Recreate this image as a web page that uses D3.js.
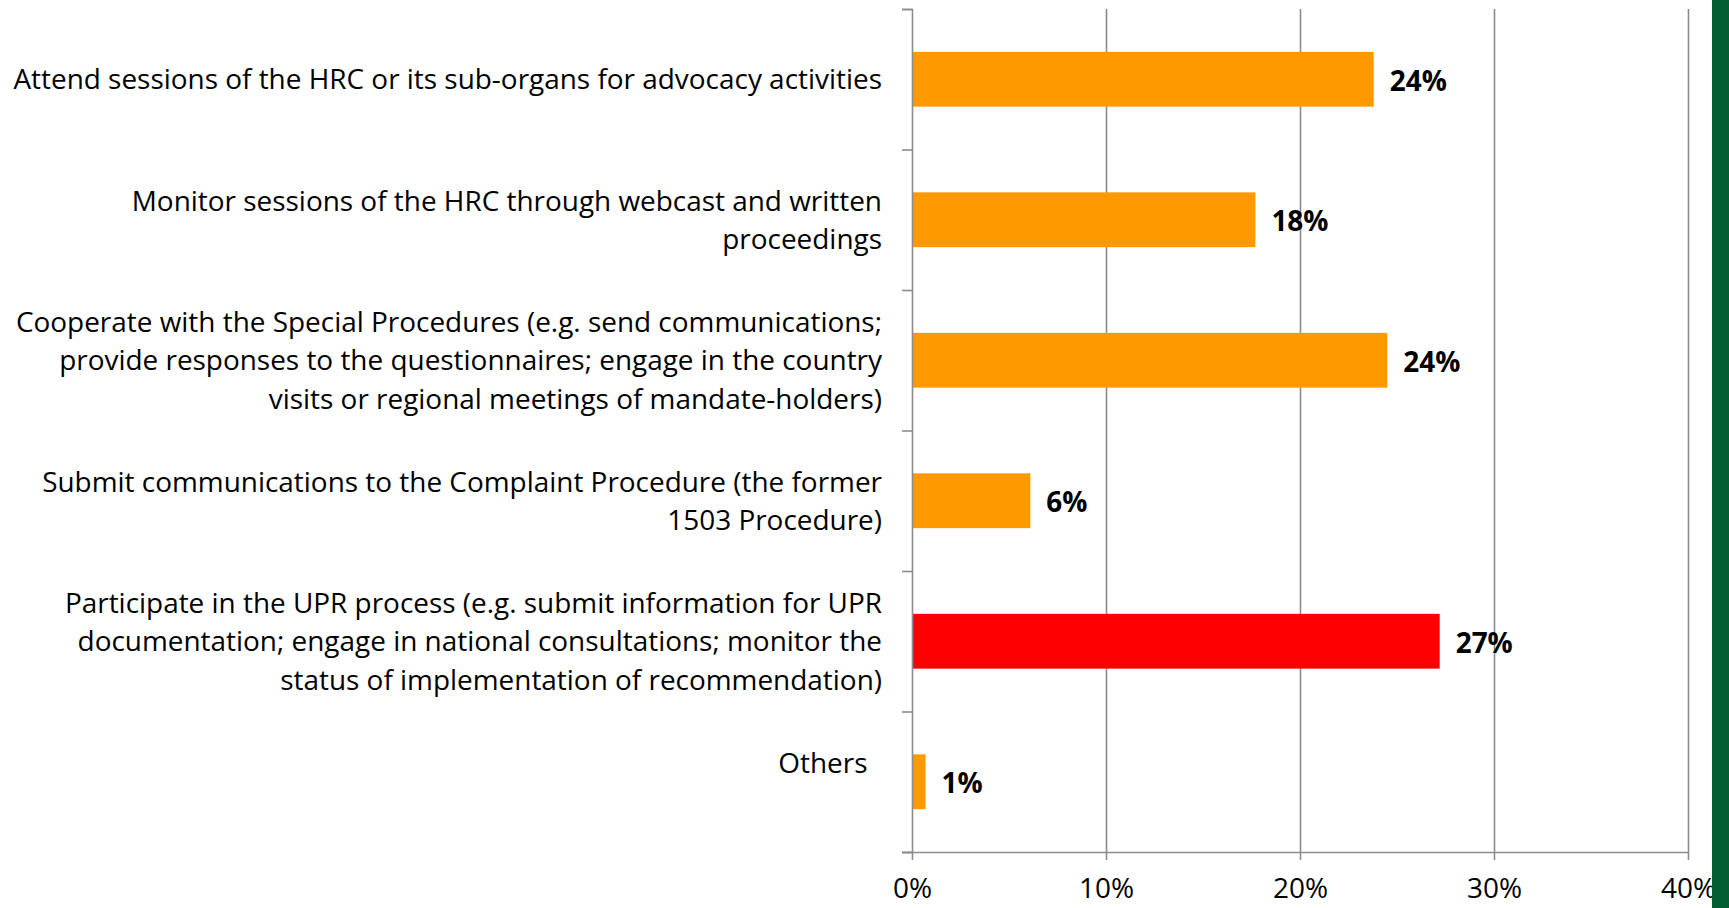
<!DOCTYPE html>
<html><head><meta charset="utf-8">
<script src="https://cdn.jsdelivr.net/npm/d3@7"></script>
<style>html,body{margin:0;padding:0;background:#fff;overflow:hidden}</style>
</head><body>
<svg id="c" width="1729" height="908"></svg>
<script>
const categories = [
  ["Attend sessions of the HRC or its sub-organs for advocacy activities"],
  ["Monitor sessions of the HRC through webcast and written", "proceedings"],
  ["Cooperate with the Special Procedures (e.g. send communications;", "provide responses to the questionnaires; engage in the country", "visits or regional meetings of mandate-holders)"],
  ["Submit communications to the Complaint Procedure (the former", "1503 Procedure)"],
  ["Participate in the UPR process (e.g. submit information for UPR", "documentation; engage in national consultations; monitor the", "status of implementation of recommendation)"],
  ["Others\u00a0\u00a0", ""]
];
const values = [23.8, 17.7, 24.5, 6.1, 27.2, 0.7];
const valueLabels = ["24%", "18%", "24%", "6%", "27%", "1%"];
const highlighted = [false, false, false, false, true, false];
const xTicks = [0, 10, 20, 30, 40];

const svg = d3.select("#c");
const FONT = "'Open Sans', 'Noto Sans', sans-serif";
const L = 912, R = 1688, T = 9, B = 852;

// measure font size to fit the widest line
const probe = svg.append("text").attr("font-family", FONT).attr("font-size", 100).text(categories[0][0]);
const w100 = probe.node().getComputedTextLength();
probe.remove();
const fs = Math.min(30, 100 * 869 / w100);

const x = d3.scaleLinear().domain([0, 40]).range([L, R]);
const y = d3.scaleBand().domain(d3.range(categories.length)).range([T, B]).paddingInner(0.61).paddingOuter(0.305);
const yEdge = d3.scaleLinear().domain([0, categories.length]).range([T, B]);

// gridlines
svg.append("g").attr("transform", `translate(0,${B})`)
  .call(d3.axisBottom(x).tickValues(xTicks.slice(1)).tickSize(-(B - T)).tickFormat(""))
  .call(g => g.select(".domain").remove())
  .call(g => g.selectAll("line").attr("stroke", "#8c8c8c").attr("stroke-width", 1.6));

// bars
svg.append("g").selectAll("rect").data(values).join("rect")
  .attr("x", x(0))
  .attr("y", (d, i) => y(i))
  .attr("width", d => x(d) - x(0))
  .attr("height", y.bandwidth())
  .attr("fill", (d, i) => highlighted[i] ? "#ff0000" : "#ff9900");

// y axis with boundary ticks
svg.append("g").attr("transform", `translate(${L},0)`)
  .call(d3.axisLeft(yEdge).tickValues(d3.range(categories.length + 1)).tickSize(10).tickFormat(""))
  .call(g => g.selectAll("line,path").attr("stroke", "#8c8c8c").attr("stroke-width", 1.6));

// x axis
const xa = svg.append("g").attr("transform", `translate(0,${B})`)
  .call(d3.axisBottom(x).tickValues(xTicks).tickSize(8).tickFormat(d => d + "%"));
xa.selectAll("line,path").attr("stroke", "#8c8c8c").attr("stroke-width", 1.6);
xa.select(".domain").attr("d", `M${L - 10},0.5H${R}`);
xa.selectAll("text").attr("font-family", FONT).attr("font-size", fs).attr("fill", "#000")
  .attr("y", 46).attr("dy", "0");

// category labels
const lh = 38.6;
const cl = svg.append("g").attr("font-family", FONT).attr("font-size", fs).attr("fill", "#000").attr("text-anchor", "end");
categories.forEach((lines, i) => {
  const cy = y(i) + y.bandwidth() / 2;
  const t = cl.append("text").attr("x", 882).attr("y", cy).style("white-space", "pre");
  lines.forEach((ln, j) => {
    t.append("tspan").attr("x", 882)
      .attr("y", cy + (j - (lines.length - 1) / 2) * lh)
      .attr("dy", "0.36em").text(ln);
  });
});

// value labels
svg.append("g").selectAll("text").data(values).join("text")
  .attr("x", d => x(d) + 16)
  .attr("y", (d, i) => y(i) + y.bandwidth() / 2)
  .attr("dy", "0.42em")
  .attr("font-family", FONT).attr("font-size", fs).attr("font-weight", "bold").attr("fill", "#000")
  .text((d, i) => valueLabels[i]);

// green side strip
svg.append("rect").attr("x", 1712).attr("y", 0).attr("width", 17).attr("height", 908).attr("fill", "#045f30");
</script>
</body></html>
